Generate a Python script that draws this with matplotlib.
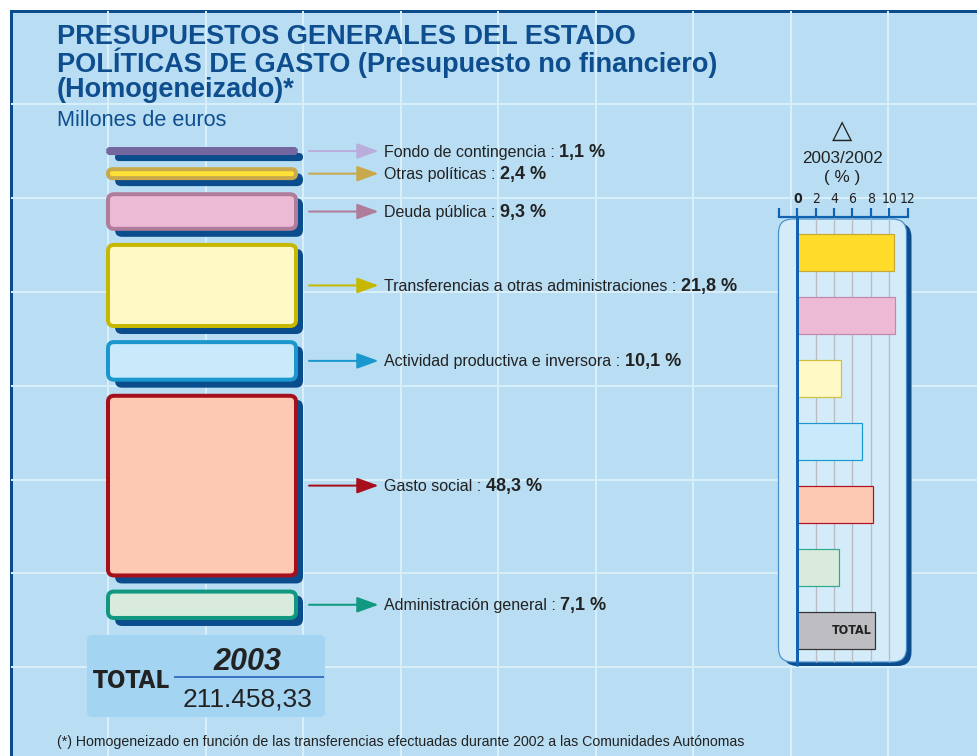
import numpy as np
import matplotlib
matplotlib.use('Agg')
import matplotlib.pyplot as plt
from matplotlib.patches import FancyBboxPatch, Rectangle

W, H, DPI = 978, 756, 100
PT = 72 / DPI  # pixels -> points

# ---- data -------------------------------------------------------------
categories = ['Fondo de contingencia', 'Otras políticas', 'Deuda pública',
              'Transferencias a otras administraciones',
              'Actividad productiva e inversora', 'Gasto social',
              'Administración general']
shares = [1.1, 2.4, 9.3, 21.8, 10.1, 48.3, 7.1]

growth_cats = ['Otras políticas', 'Deuda pública', 'Transferencias',
               'Actividad productiva', 'Gasto social',
               'Administración general', 'TOTAL']
growth = [10.5, 10.6, 4.8, 7.0, 8.2, 4.5, 8.5]
growth_ticks = [-2, 0, 2, 4, 6, 8, 10, 12]
growth_ticklabels = ['', '0', '2', '4', '6', '8', '10', '12']

total_year = '2003'
total_amount = '211.458,33'

# colours
block_fill = ['#7467a0', '#ffe034', '#edbad6', '#fff9c6', '#c9eafa', '#fdc9b2', '#d8ebdd']
block_edge = ['#7467a0', '#c8a94c', '#b07c9c', '#c6b800', '#1a98ce', '#a5101c', '#109880']
arrow_col = ['#b9addb', '#c8a94c', '#b07c9c', '#c6b800', '#1a98ce', '#a5101c', '#109880']
bar_fill = ['#ffdb2a', '#edbad6', '#fff9c6', '#c9eafa', '#fdc9b2', '#d8ebdd', '#bebec2']
bar_edge = ['#c8a83a', '#c088a8', '#d0c040', '#1a9acc', '#b01020', '#30a890', '#333333']

BG = '#b9def3'
GRID = '#d8eef9'
NAVY = '#0b4c8c'
TITLE = '#0e4d8e'
TXT = '#222222'

SANS = ['Liberation Sans', 'DejaVu Sans']
COND = ['DejaVu Sans']
plt.rcParams['font.family'] = SANS

fig = plt.figure(figsize=(W / DPI, H / DPI), dpi=DPI, facecolor='white')
ax = fig.add_axes([0, 0, 1, 1])
ax.set_xlim(0, W)
ax.set_ylim(H, 0)
ax.axis('off')
renderer = fig.canvas.get_renderer()

# background frame + grid
ax.add_patch(Rectangle((10.5, 10.5), W + 20, H + 20, fc=BG, ec=NAVY, lw=3 * PT, zorder=0))
for gx in np.arange(10.5 + 97.5, W, 97.5):
    ax.plot([gx, gx], [12, H], color=GRID, lw=2 * PT, zorder=0.5)
for gy in np.arange(10.5 + 93.8, H, 93.8):
    ax.plot([12, W], [gy, gy], color=GRID, lw=2 * PT, zorder=0.5)

# titles (va='baseline' anchors the last line)
ax.text(57, 97, 'PRESUPUESTOS GENERALES DEL ESTADO\n'
        'POLÍTICAS DE GASTO (Presupuesto no financiero)\n(Homogeneizado)*',
        fontsize=19.5, weight='bold', color=TITLE, va='baseline', linespacing=0.93)
ax.text(57, 126, 'Millones de euros', fontsize=15.6, color=TITLE)

# ---- left stacked blocks ------------------------------------------------
SCALE = 3.72    # px per percent
GAP = 16.1
TOP0 = 149.0
BX0, BX1 = 108, 296
heights = np.array(shares) * SCALE
tops = TOP0 + np.concatenate([[0], np.cumsum(heights[:-1] + GAP)])

for i, (t, h) in enumerate(zip(tops, heights)):
    ox0, ox1, oy0, oy1 = BX0 - 2, BX1 + 2, t - 2, t + h + 2
    ax.add_patch(FancyBboxPatch((ox0 + 9, oy0 + 6), ox1 - ox0 - 4, oy1 - oy0,
                                boxstyle='round,pad=0,rounding_size=%.2f' % min(7, (oy1 - oy0) / 2),
                                fc=NAVY, ec='none', zorder=2))
    ax.add_patch(FancyBboxPatch((BX0, t), BX1 - BX0, h,
                                boxstyle='round,pad=0,rounding_size=%.2f' % min(6, h / 2),
                                fc=block_fill[i], ec=block_edge[i], lw=4 * PT, zorder=3))
    cy = t + h / 2
    ax.annotate('', xy=(378.5, cy), xytext=(309, cy),
                arrowprops=dict(arrowstyle='-|>,head_length=0.55,head_width=0.2',
                                color=arrow_col[i], lw=2 * PT, shrinkA=0, shrinkB=0,
                                mutation_scale=24), zorder=3)
    t1 = ax.text(384, cy + 5.5, categories[i] + ' :', fontsize=11.5, color=TXT, va='baseline')
    x_end = ax.transData.inverted().transform((t1.get_window_extent(renderer).x1, 0))[0]
    ax.text(x_end + 4.5, cy + 5.5, ('%.1f %%' % shares[i]).replace('.', ','),
            fontsize=13, weight='bold', color=TXT, va='baseline')

# TOTAL box
ax.add_patch(FancyBboxPatch((87, 635), 238, 82, boxstyle='round,pad=0,rounding_size=5',
                            fc='#a3d4f2', ec='none', zorder=2))
ax.text(93, 688.5, 'TOTAL', family=COND, stretch='condensed', fontsize=17.5,
        weight='bold', color=TXT, zorder=4)
ax.text(247, 670, total_year, fontsize=22, weight='bold', style='italic', color=TXT,
        ha='center', zorder=4)
ax.plot([175, 323], [677.3, 677.3], color='#3c74c4', lw=2 * PT, zorder=4)
ax.text(247, 707, total_amount, fontsize=19, color=TXT, ha='center', zorder=4)

# footnote
ax.text(57, 746, '(*) Homogeneizado en función de las transferencias efectuadas durante 2002 '
        'a las Comunidades Autónomas', fontsize=10.18, color=TXT)

# ---- right panel: 2003/2002 change ------------------------------------
ax.text(842.5, 131, '△', family=['DejaVu Sans'], fontsize=19, color=TXT, ha='center', va='center')
ax.text(842.5, 163.3, '2003/2002', fontsize=12.3, color=TXT, ha='center')
ax.text(842.5, 181.7, '( % )', fontsize=12.3, color=TXT, ha='center')

ax.add_patch(FancyBboxPatch((783.5, 223), 128, 443, boxstyle='round,pad=0,rounding_size=14',
                            fc=NAVY, ec='none', zorder=2))
ax.add_patch(FancyBboxPatch((778.5, 219), 128, 443, boxstyle='round,pad=0,rounding_size=14',
                            fc='#d4ecfa', ec='#4a8fcb', lw=1.2 * PT, zorder=3))

X0PX, UNIT = 797.3, 9.2        # px of value 0, px per unit
Y0PX, STEP = 252.0, 63.0       # px of first bar centre, px per bar
AX_L, AX_R, AX_T, AX_B = 778.0, 912.0, 217.3, 667.0
ax2 = fig.add_axes([AX_L / W, 1 - AX_B / H, (AX_R - AX_L) / W, (AX_B - AX_T) / H])
ax2.set_facecolor('none')
ax2.set_xlim((AX_L - X0PX) / UNIT, (AX_R - X0PX) / UNIT)
ytop, ybot = (AX_T - Y0PX) / STEP, (AX_B - Y0PX) / STEP
ax2.set_ylim(ybot, ytop)
for s in ['left', 'right', 'bottom']:
    ax2.spines[s].set_visible(False)
ax2.spines['top'].set_color('#1262b2')
ax2.spines['top'].set_linewidth(2.2 * PT)
ax2.spines['top'].set_bounds(-2, 12)
ax2.xaxis.tick_top()
ax2.set_xticks(growth_ticks)
ax2.set_xticklabels(growth_ticklabels, family=COND, stretch='condensed', fontsize=10, color=TXT)
ax2.get_xticklabels()[1].set_fontweight('bold')
ax2.tick_params(axis='x', direction='out', length=9 * PT, width=2.2 * PT,
                color='#1262b2', pad=1.5)
ax2.set_yticks([])

ax2.vlines(growth_ticks[2:-1], ytop, (662 - Y0PX) / STEP, color='#b8bcc2', lw=1.3 * PT, zorder=1)
idx = np.arange(len(growth))
ax2.barh(idx, growth, height=37 / STEP, color=bar_fill, edgecolor=bar_edge,
         lw=1.2 * PT, zorder=2)
ax2.vlines(0, ytop, (666 - Y0PX) / STEP, color='#1262b2', lw=3 * PT, zorder=3)
ax2.text(growth[-1] - 0.45, idx[-1], growth_cats[-1], family=COND, stretch='condensed',
         fontsize=9, weight='bold', color=TXT, ha='right', va='center', zorder=4)

fig.savefig('out.png', dpi=DPI, facecolor='white')
